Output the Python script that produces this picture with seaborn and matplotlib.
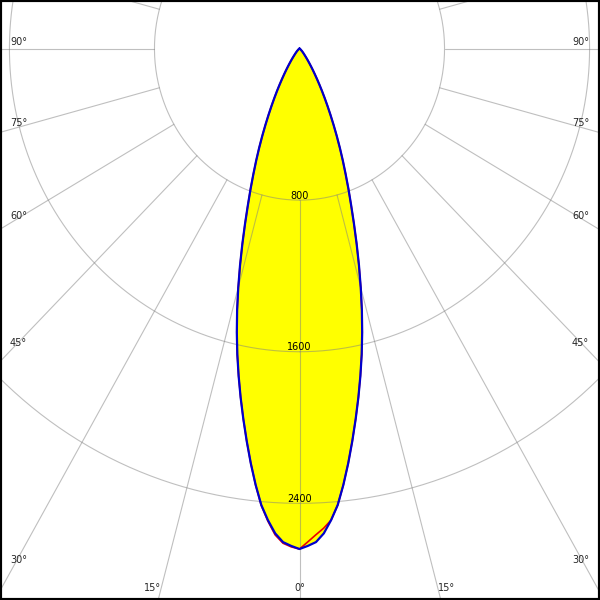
import numpy as np
import pandas as pd
import matplotlib
matplotlib.use('Agg')
import matplotlib.pyplot as plt
import seaborn as sns

# Courbe photométrique (cd) - angles gamma en degrés
gamma = [0, 1, 2, 3, 4, 5, 6, 7, 8, 9, 10, 11, 12, 13, 14, 15, 16, 17, 18, 19, 20,
         21, 22, 23, 24, 25, 26, 27, 28, 29, 30, 31, 32, 33, 34, 35, 36, 37, 38, 39, 40,
         42, 45, 50, 55, 60, 70, 80, 90]
# plan C90 / C270 (bleu)
c90_cd = [2641, 2625, 2606, 2562, 2495, 2418, 2315, 2205, 2092, 1980, 1870,
          1760, 1650, 1537, 1422, 1305, 1190, 1078, 972, 875, 790,
          710, 638, 570, 505, 445, 390, 340, 295, 255, 218,
          186, 158, 134, 113, 95, 80, 67, 56, 47, 40,
          30, 20, 8, 3, 0, 0, 0, 0]
# plan C0 (rouge, côté droit)
c0_cd = [2641, 2604, 2568, 2535, 2495, 2418, 2315, 2205, 2092, 1980, 1870,
         1760, 1650, 1537, 1422, 1305, 1190, 1078, 972, 875, 790,
         710, 638, 570, 505, 445, 390, 340, 295, 255, 218,
         186, 158, 134, 113, 95, 80, 67, 56, 47, 40,
         30, 20, 8, 3, 0, 0, 0, 0]
# plan C180 (rouge, côté gauche)
c180_cd = [2641, 2630, 2612, 2570, 2500, 2420, 2316, 2205, 2092, 1980, 1870,
           1760, 1650, 1537, 1422, 1305, 1190, 1078, 972, 875, 790,
           710, 638, 570, 505, 445, 390, 340, 295, 255, 218,
           186, 158, 134, 113, 95, 80, 67, 56, 47, 40,
           30, 20, 8, 3, 0, 0, 0, 0]

rings = [800, 1600, 2400]
ring_labels = ['800', '1600', '2400']
angle_ticks = [0, 15, 30, 45, 60, 75, 90]

# limites (cd) pour garder le centre en haut de l'image
xmin, xmax = -1652, 1657.5
ymin, ymax = -2910, 256
W = H = 600
sx = W / (xmax - xmin)
sy = H / (ymax - ymin)


def half_curve(angles, values, side):
    a = np.radians(angles)
    v = np.array(values, dtype=float)
    return side * v * np.sin(a), -v * np.cos(a)


def full_curve(left_vals, right_vals):
    xl, yl = half_curve(gamma, left_vals, -1)
    xr, yr = half_curve(gamma, right_vals, 1)
    x = np.concatenate([xl[::-1], xr])
    y = np.concatenate([yl[::-1], yr])
    return pd.DataFrame({'x': x, 'y': y, 'order': np.arange(len(x))})


sns.set_style('white')
fig = plt.figure(figsize=(6, 6), dpi=100)
ax = fig.add_axes([0, 0, 1, 1])

blue = full_curve(c90_cd, c90_cd)
red = full_curve(c180_cd, c0_cd)

ax.fill(blue['x'], blue['y'], color='#ffff00', lw=0, zorder=1)

# grille
grid_kw = dict(color='#808080', alpha=0.5, lw=0.8, zorder=2)
t = np.linspace(0, 2 * np.pi, 721)
for r in rings:
    ax.plot(r * np.sin(t), -r * np.cos(t), **grid_kw)
for ang in range(-180, 181, 15):
    a = np.radians(ang)
    ax.plot([rings[0] * np.sin(a), 5000 * np.sin(a)],
            [-rings[0] * np.cos(a), -5000 * np.cos(a)], **grid_kw)

sns.lineplot(data=red, x='x', y='y', sort=False, estimator=None,
             color='#ee0000', lw=1.2, ax=ax, zorder=3)
sns.lineplot(data=blue, x='x', y='y', sort=False, estimator=None,
             color='#0000cc', lw=1.6, ax=ax, zorder=4)

# étiquettes des cercles
for r, lab in zip(rings, ring_labels):
    ax.text(0, -r + 1.5 / sy, lab, ha='center', va='baseline',
            fontsize=7, color='black', zorder=5)

# étiquettes des angles
y_bottom = ymin + 12 / sy
x_edge = -xmin - 10 / sx
x_ray = -xmin - 18 / sx
for ang in angle_ticks:
    a = np.radians(ang)
    lab = f'{ang}°'
    if ang == 0:
        ax.text(0, y_bottom, lab, ha='center', va='center', fontsize=7, zorder=5)
    elif ang < 30:
        xb = -y_bottom * np.tan(a)
        ax.text(-xb, y_bottom, lab, ha='right', va='center', fontsize=7, zorder=5)
        ax.text(xb, y_bottom, lab, ha='left', va='center', fontsize=7, zorder=5)
    else:
        off = 2 - 8.5 * (ang - 30) / 60
        yl = -x_ray * np.cos(a) / np.sin(a) - off / sy
        ax.text(-x_edge, yl, lab, ha='left', va='center', fontsize=7, zorder=5)
        ax.text(x_edge, yl, lab, ha='right', va='center', fontsize=7, zorder=5)

ax.set_xlim(xmin, xmax)
ax.set_ylim(ymin, ymax)
ax.set_xticks([])
ax.set_yticks([])
ax.set_xlabel('')
ax.set_ylabel('')
for s in ax.spines.values():
    s.set_visible(True)
    s.set_color('black')
    s.set_linewidth(3)

plt.savefig('out.png', dpi=100)
